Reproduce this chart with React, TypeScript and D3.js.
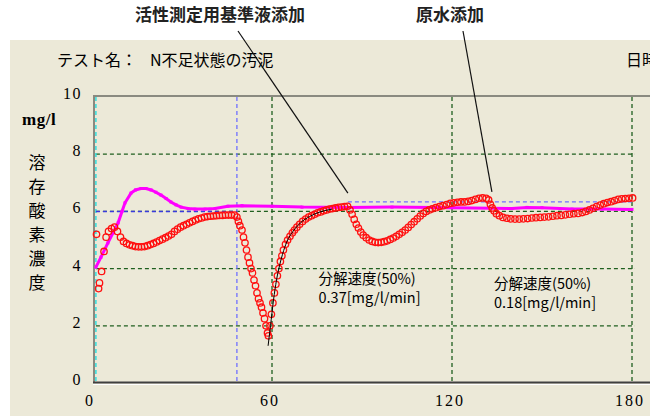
import React from 'react';
import * as d3 from 'd3';

// measured DO (red circles): [minutes, mg/l]
const redPoints: [number, number][] = [
  [1.5, 5.2], [2.2, 3.3], [2.5, 3.5], [3.2, 3.9], [4, 4.6], [4.7, 5.1], [5.5, 5.3], [6.5, 5.4],
  [7.5, 5.45], [8.5, 5.3], [9.5, 5.1], [10.5, 4.95], [11.5, 4.88], [12.5, 4.83], [13.5, 4.8],
  [14.5, 4.77], [15.5, 4.76], [16.5, 4.76], [17.5, 4.77], [18.5, 4.8], [19.5, 4.84], [20.5, 4.88],
  [21.5, 4.93], [22.5, 4.98], [23.5, 5.03], [24.5, 5.08], [25.5, 5.14], [26.5, 5.2], [27.5, 5.3],
  [28.5, 5.38], [29.5, 5.45], [30.5, 5.5], [31.5, 5.55], [32.5, 5.6], [33.5, 5.65], [34.5, 5.7],
  [35.5, 5.74], [36.5, 5.77], [37.5, 5.8], [38.5, 5.82], [39.5, 5.83], [40.5, 5.84], [41.5, 5.85],
  [42.5, 5.86], [43.5, 5.86], [44.5, 5.87], [45.5, 5.87], [46.5, 5.87], [47.5, 5.87], [48.3, 5.8],
  [48.8, 5.65], [49.3, 5.5], [50, 5.35], [50.5, 5.1], [51, 4.9], [51.5, 4.65], [52, 4.4],
  [52.5, 4.2], [53, 4.0], [53.5, 3.85], [54, 3.6], [54.5, 3.4], [55, 3.15], [55.5, 2.95],
  [56, 2.8], [56.5, 2.65], [57, 2.45], [57.5, 2.25], [58, 2.0], [58.5, 1.75], [58.8, 1.65],
  [59.3, 2.0], [59.8, 2.4], [60.3, 2.8], [60.8, 3.15], [61.3, 3.45], [61.8, 3.75], [62.3, 4.0],
  [62.8, 4.25], [63.3, 4.45], [63.8, 4.65], [64.5, 4.85], [65.2, 5.0], [66, 5.13], [66.8, 5.25],
  [67.5, 5.35], [68.3, 5.45], [69.2, 5.55], [70.2, 5.65], [71.2, 5.73], [72.2, 5.8], [73.2, 5.85],
  [74.2, 5.9], [75.2, 5.95], [76.2, 5.98], [77.2, 6.02], [78.2, 6.05], [79.2, 6.08], [80.2, 6.1],
  [81.2, 6.12], [82.2, 6.14], [83.2, 6.15], [84.2, 6.17], [85.2, 6.18], [86, 6.05], [86.7, 5.9],
  [87.4, 5.72], [88.1, 5.55], [88.8, 5.42], [89.6, 5.28], [90.4, 5.17], [91.4, 5.08], [92.4, 5.0],
  [93.4, 4.95], [94.4, 4.92], [95.4, 4.91], [96.4, 4.92], [97.4, 4.94], [98.4, 4.97], [99.4, 5.02],
  [100.4, 5.07], [101.4, 5.13], [102.4, 5.2], [103.4, 5.27], [104.4, 5.35], [105.4, 5.44],
  [106.4, 5.54], [107.4, 5.64], [108.4, 5.74], [109.4, 5.84], [110.4, 5.93], [111.4, 6.0],
  [112.4, 6.05], [113.4, 6.09], [114.6, 6.13], [115.8, 6.17], [117, 6.2], [118.2, 6.24],
  [119.4, 6.28], [120.6, 6.3], [121.8, 6.32], [123, 6.33], [124.2, 6.33], [125.4, 6.35],
  [126.6, 6.38], [127.8, 6.42], [129, 6.46], [130.2, 6.47], [131.4, 6.46], [132.2, 6.4],
  [132.8, 6.25], [133.4, 6.12], [134, 6.02], [134.8, 5.92], [135.8, 5.85], [137, 5.79],
  [138.3, 5.76], [139.6, 5.74], [141, 5.73], [142.4, 5.73], [143.8, 5.74], [145.2, 5.75],
  [146.6, 5.77], [148, 5.78], [149.4, 5.79], [150.8, 5.8], [152.2, 5.81], [153.6, 5.83],
  [155, 5.85], [156.4, 5.86], [157.8, 5.88], [159.2, 5.9], [160.6, 5.92], [162, 5.93],
  [163.4, 5.96], [164.6, 6.0], [165.8, 6.05], [167, 6.11], [168.2, 6.17], [169.4, 6.22],
  [170.6, 6.27], [171.8, 6.31], [173, 6.34], [174.2, 6.38], [175.4, 6.42], [176.6, 6.44],
  [177.8, 6.45], [179, 6.46], [180.2, 6.47],
];

// magenta line
const magentaPoints: [number, number][] = [
  [1.3, 4.05], [3, 4.4], [5.3, 4.9], [7, 5.25], [8.7, 5.6], [10, 6.0], [11, 6.3], [13, 6.64],
  [14.5, 6.75], [16.3, 6.8], [18, 6.8], [19.7, 6.75], [21.3, 6.67], [23, 6.57], [24.7, 6.45],
  [26.3, 6.33], [28, 6.23], [29.7, 6.15], [32, 6.1], [34.3, 6.08], [37.7, 6.08], [41, 6.1],
  [45.3, 6.18], [50, 6.2], [60, 6.18], [70, 6.15], [85, 6.14], [100, 6.15], [120, 6.13],
  [140, 6.1], [145, 6.14], [150, 6.13], [160, 6.08], [170, 6.08], [180, 6.07],
];

// black fitted recovery curve
const fitPoints: [number, number][] = [
  [58.7, 1.3], [59.5, 2.0], [60.5, 2.9], [61.5, 3.6], [62.5, 4.1], [63.5, 4.5], [65, 4.95],
  [67, 5.3], [69.5, 5.6], [72.5, 5.82], [76, 5.98], [80, 6.08],
];

const xTicks = [0, 60, 120, 180];
const yTicks = [0, 2, 4, 6, 8, 10];
const gridX = [60, 120, 180];
const gridY = [2, 4, 6, 8];
const yLabelChars = ['溶', '存', '酸', '素', '濃', '度'];

// reference marks
const startMark = 1.3;
const addMark = 48.3;
const baseLevel1 = { from: 1.3, to: 48.3, v: 6 };
const baseLevel2 = { from: 85.3, to: 180, v: 6.33 };
const notes = [
  { text: '活性測定用基準液添加', tx: 220, t: 85.3, v: 6.64, sx: 238 },
  { text: '原水添加', tx: 450, t: 133.3, v: 6.68, sx: 463 },
];
const rates = [
  { t: 75.5, v: 3.45, name: '分解速度(50%)', value: '0.37[mg/l/min]' },
  { t: 134, v: 3.3, name: '分解速度(50%)', value: '0.18[mg/l/min]' },
];

const W = 659;
const H = 416;
const BG = '#ece9d8';
const JP = '"Noto Sans CJK JP", sans-serif';
const NUM = '"Liberation Serif", serif';

export default function App() {
  const x = d3.scaleLinear().domain([0, 180]).range([92, 632]);
  const y = d3.scaleLinear().domain([0, 10]).range([383, 97]);
  const line = d3.line<[number, number]>().x(d => x(d[0])).y(d => y(d[1]));
  const fitLine = d3.line<[number, number]>().x(d => x(d[0])).y(d => y(d[1])).curve(d3.curveMonotoneX);

  const green = '#1f5f1f';
  const blue = '#6f6fff';

  return (
    <svg width={W} height={H} style={{ position: 'absolute', left: 0, top: 0 }}>
      <defs>
        <clipPath id="panel">
          <rect x={10} y={40} width={640} height={376} />
        </clipPath>
      </defs>
      <rect width={W} height={H} fill="#fff" />
      <g clipPath="url(#panel)">
        <rect x={10} y={40} width={640} height={376} fill={BG} />
        <text x={57} y={66} fontFamily={JP} fontSize={16} fill="#000">テスト名：</text>
        <text x={150} y={66} fontFamily={JP} fontSize={16} fill="#000">N不足状態の汚泥</text>
        <text x={626} y={66} fontFamily={JP} fontSize={16} fill="#000">日時</text>

        {/* y axis title */}
        <text x={22} y={125} fontFamily={NUM} fontSize={17} fontWeight="bold" letterSpacing={0.5} fill="#000">mg/l</text>
        {yLabelChars.map((c, i) => (
          <text key={c} x={37} y={169 + i * 24} textAnchor="middle" fontFamily={JP} fontSize={17} fill="#000">{c}</text>
        ))}

        {/* tick labels */}
        {yTicks.map(t => (
          <text key={t} x={82} y={y(t) + 2} textAnchor="end" fontFamily={NUM} fontSize={16} letterSpacing={1.5} fill="#000">{t}</text>
        ))}
        {xTicks.map(t => (
          <text key={t} x={x(t) - 2} y={406} textAnchor="middle" fontFamily={NUM} fontSize={16} letterSpacing={2} fill="#000">{t}</text>
        ))}

        {/* grid */}
        {gridY.map(v => (
          <line key={'gy' + v} x1={x(startMark)} x2={x(181)} y1={y(v)} y2={y(v)} stroke={green} strokeWidth={1.3} strokeDasharray="4,3" />
        ))}
        {gridX.map(t => (
          <line key={'gx' + t} x1={x(t)} x2={x(t)} y1={y(10)} y2={y(0)} stroke={green} strokeWidth={1.3} strokeDasharray="4,3" />
        ))}
        <line x1={x(startMark)} x2={x(startMark)} y1={y(10)} y2={y(0)} stroke="#33dddd" strokeWidth={1.5} strokeDasharray="4,3" />
        <line x1={x(addMark)} x2={x(addMark)} y1={y(10)} y2={y(0)} stroke={blue} strokeWidth={1.3} strokeDasharray="4,3" />
        <line x1={x(baseLevel1.from)} x2={x(baseLevel1.to)} y1={y(baseLevel1.v)} y2={y(baseLevel1.v)} stroke="#3a3adf" strokeWidth={1.5} strokeDasharray="4,3" />
        <line x1={x(baseLevel2.from)} x2={x(baseLevel2.to)} y1={y(baseLevel2.v)} y2={y(baseLevel2.v)} stroke={blue} strokeWidth={1.2} strokeDasharray="4,3" />

        {/* frame */}
        <line x1={94} x2={650} y1={96} y2={96} stroke="#8a8a80" strokeWidth={2} />
        <line x1={94} x2={94} y1={95} y2={383} stroke="#8a8a80" strokeWidth={2} />
        <line x1={93} x2={650} y1={382.5} y2={382.5} stroke="#404040" strokeWidth={2} />
        <line x1={93} x2={650} y1={384.5} y2={384.5} stroke="#fff" strokeWidth={1} />

        {/* series */}
        <path d={line(magentaPoints) || ''} fill="none" stroke="#ff00ff" strokeWidth={3} />
        {magentaPoints.map((d, i) => (
          <rect key={'m' + i} x={x(d[0]) - 1.5} y={y(d[1]) - 1.5} width={3} height={3} fill="#ff00ff" />
        ))}
        {redPoints.map((d, i) => (
          <circle key={'r' + i} cx={x(d[0])} cy={y(d[1])} r={3.2} fill="none" stroke="#ff1010" strokeWidth={1.3} />
        ))}
        <path d={fitLine(fitPoints) || ''} fill="none" stroke="#000" strokeWidth={1} />

        {rates.map((r, i) => (
          <g key={'rt' + i} fontFamily={JP} fontSize={14.5} fill="#000">
            <text x={x(r.t)} y={y(r.v)}>{r.name}</text>
            <text x={x(r.t)} y={y(r.v) + 19}>{r.value}</text>
          </g>
        ))}
      </g>

      {/* annotations */}
      {notes.map((n, i) => (
        <g key={'n' + i}>
          <text x={n.tx} y={21} textAnchor="middle" fontFamily={JP} fontSize={17} fontWeight="bold" fill="#222">{n.text}</text>
          <line x1={n.sx} y1={31} x2={x(n.t)} y2={y(n.v)} stroke="#111" strokeWidth={1.2} />
        </g>
      ))}
    </svg>
  );
}
